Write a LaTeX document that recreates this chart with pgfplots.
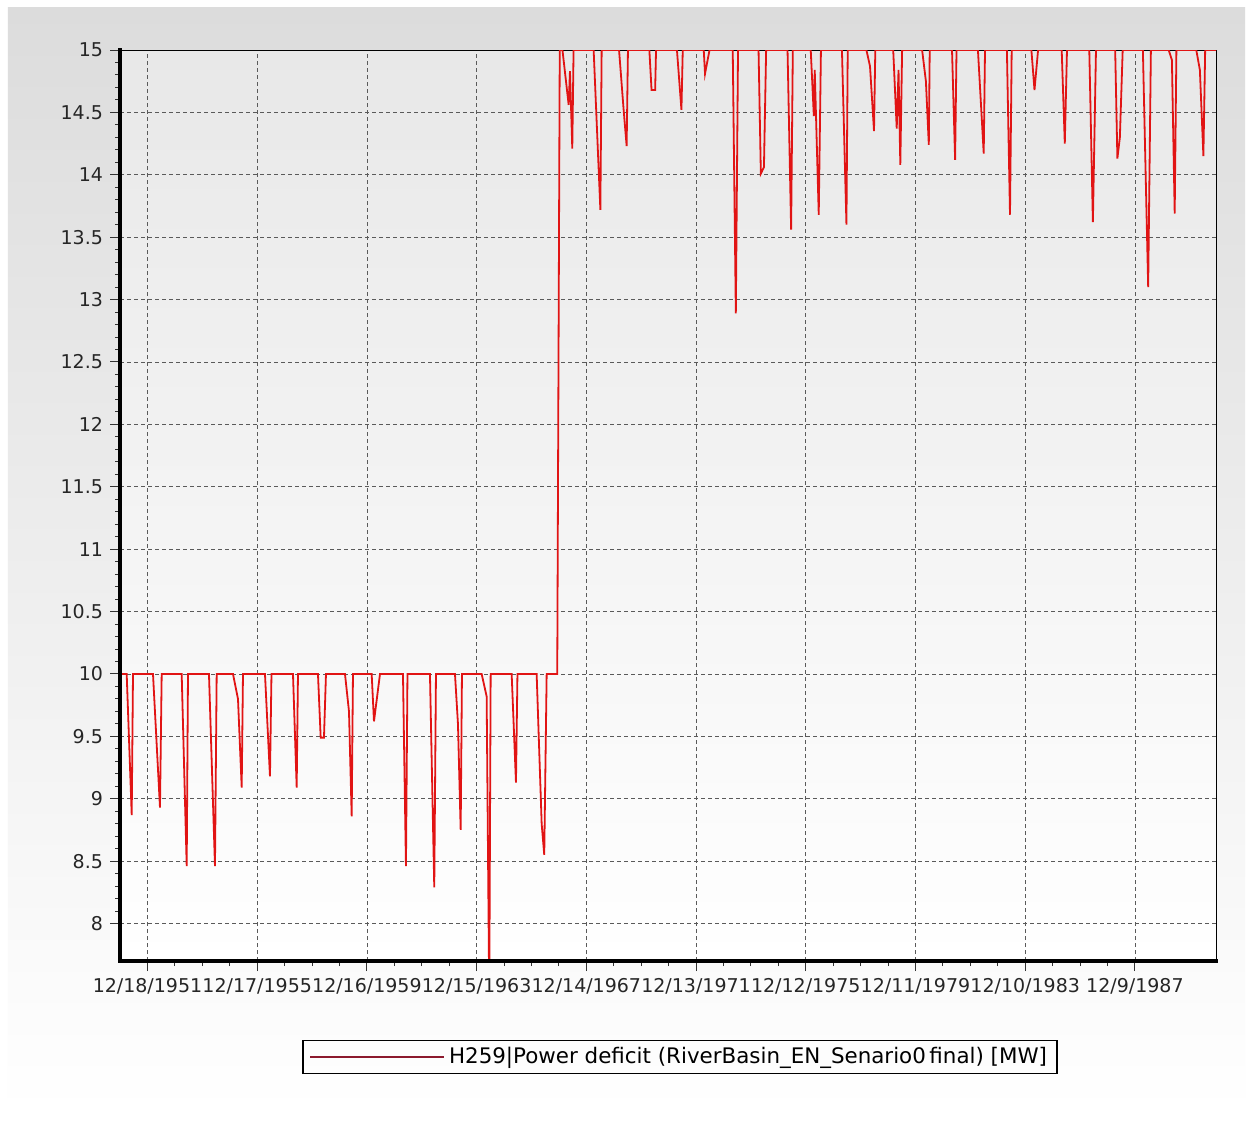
\documentclass[border=0pt]{standalone}
\usepackage{fontspec}
\setmainfont{DejaVu Sans}
\usepackage{pgfplots}
\pgfplotsset{compat=1.18}

\definecolor{plotred}{RGB}{225,20,20}
\definecolor{legred}{RGB}{140,25,45}
\definecolor{gridgray}{RGB}{90,90,90}
\definecolor{panelgray}{RGB}{220,220,220}
\definecolor{plotgray}{RGB}{232,232,232}

\begin{document}
\begin{tikzpicture}
% page and grey panel behind the chart
\fill[white] (-60pt,-79.5pt) rectangle (566.5pt,480.5pt);
\shade[top color=panelgray, bottom color=white] (-56pt,-76pt) rectangle (562.5pt,476.5pt);

\begin{axis}[
    name=ax,
    at={(0,0)}, anchor=south west,
    scale only axis,
    width=548pt, height=455.5pt,
    xmin=1950.96, xmax=1990.92,
    ymin=7.7, ymax=15,
    axis background/.style={shade, top color=plotgray, bottom color=white},
    axis line style={black, line width=0.5pt},
    xtick={1951.963,1955.963,1959.963,1963.963,1967.963,1971.963,1975.963,1979.963,1983.963,1987.963},
    xticklabels={12/18/1951,12/17/1955,12/16/1959,12/15/1963,12/14/1967,12/13/1971,12/12/1975,12/11/1979,12/10/1983,12/9/1987},
    ytick={8,8.5,9,9.5,10,10.5,11,11.5,12,12.5,13,13.5,14,14.5,15},
    minor x tick num=3,
    minor y tick num=4,
    tick align=outside,
    xtick pos=left, ytick pos=left,
    major tick length=5pt, minor tick length=2.5pt,
    tick style={black!80, line width=0.5pt},
    grid=major,
    major grid style={gridgray, line width=0.4pt, dash pattern=on 2pt off 1.5pt},
    /pgf/number format/assume math mode=true,
    ticklabel style={font=\fontsize{9.5}{11}\selectfont, text=black!85},
    legend style={at={(0.511,-0.1054)}, anchor=center, draw=black, fill=none,
        line width=0.6pt, font=\fontsize{10.7}{12}\selectfont,
        inner xsep=3pt, inner ysep=1.5pt},
    legend image code/.code={\draw[#1] (0pt,0pt) -- (62pt,0pt);
        \path (0pt,0pt) -- (67pt,0pt);},
]
\addlegendimage{legred, line width=1pt}
\addlegendentry{H259|Power deficit (RiverBasin\_EN\_Senario0\,final) [MW]}

\addplot[plotred, line width=0.9pt, forget plot] coordinates {
(1950.96,10)
(1951.204,10) (1951.387,8.87) (1951.434,10)
(1952.163,10) (1952.418,8.93) (1952.480,10)
(1953.209,10) (1953.392,8.46) (1953.439,10)
(1954.204,10) (1954.423,8.46) (1954.485,10)
(1955.080,10) (1955.262,9.8) (1955.397,9.09) (1955.444,10)
(1956.246,10) (1956.428,9.18) (1956.483,10)
(1957.267,10) (1957.402,9.09) (1957.449,10)
(1958.178,10) (1958.277,9.49) (1958.397,9.49) (1958.470,10)
(1959.163,10) (1959.309,9.7) (1959.407,8.86) (1959.454,10)
(1960.136,10) (1960.220,9.62) (1960.439,10)
(1961.277,10) (1961.386,8.46) (1961.441,10)
(1962.261,10) (1962.418,8.29) (1962.480,10)
(1963.173,10) (1963.282,9.6) (1963.381,8.75) (1963.428,10)
(1964.146,10) (1964.328,9.82) (1964.423,7.4) (1964.474,10)
(1965.240,10) (1965.397,9.13) (1965.451,10)
(1966.151,10) (1966.334,8.8) (1966.428,8.55) (1966.516,10)
(1966.902,10) (1966.993,15)
(1967.092,15) (1967.318,14.56) (1967.366,14.83) (1967.450,14.21) (1967.497,15)
(1968.229,15) (1968.474,13.72) (1968.521,15)
(1969.155,15) (1969.319,14.53) (1969.432,14.23) (1969.480,15)
(1970.260,15) (1970.340,14.68) (1970.471,14.68) (1970.504,15)
(1971.266,15) (1971.430,14.52) (1971.478,15)
(1972.243,15) (1972.290,14.81) (1972.454,15)
(1973.300,15) (1973.413,12.89) (1973.493,15)
(1974.241,15) (1974.325,14.01) (1974.438,14.06) (1974.518,15)
(1975.298,15) (1975.429,13.56) (1975.491,15)
(1976.144,15) (1976.257,14.47) (1976.290,14.84) (1976.436,13.68) (1976.516,15)
(1977.282,15) (1977.446,13.60) (1977.493,15)
(1978.174,15) (1978.305,14.87) (1978.451,14.35) (1978.498,15)
(1979.151,15) (1979.279,14.37) (1979.345,14.84) (1979.410,14.08) (1979.476,15)
(1980.205,15) (1980.343,14.75) (1980.449,14.24) (1980.482,15)
(1981.295,15) (1981.408,14.12) (1981.459,15)
(1982.240,15) (1982.451,14.17) (1982.498,15)
(1983.296,15) (1983.409,13.68) (1983.471,15)
(1984.189,15) (1984.302,14.68) (1984.433,15)
(1985.294,15) (1985.407,14.25) (1985.487,15)
(1986.300,15) (1986.431,13.62) (1986.544,15)
(1987.244,15) (1987.324,14.13) (1987.415,14.3) (1987.518,15)
(1988.254,15) (1988.447,13.10) (1988.546,15)
(1989.195,15) (1989.312,14.92) (1989.414,13.69) (1989.476,15)
(1990.201,15) (1990.332,14.84) (1990.460,14.15) (1990.525,15)
(1990.92,15)
};
\end{axis}
% heavier left and bottom frame lines
\draw[black, line width=1.6pt, line cap=rect] (ax.north west) -- (ax.south west) -- (ax.south east);
\end{tikzpicture}
\end{document}
